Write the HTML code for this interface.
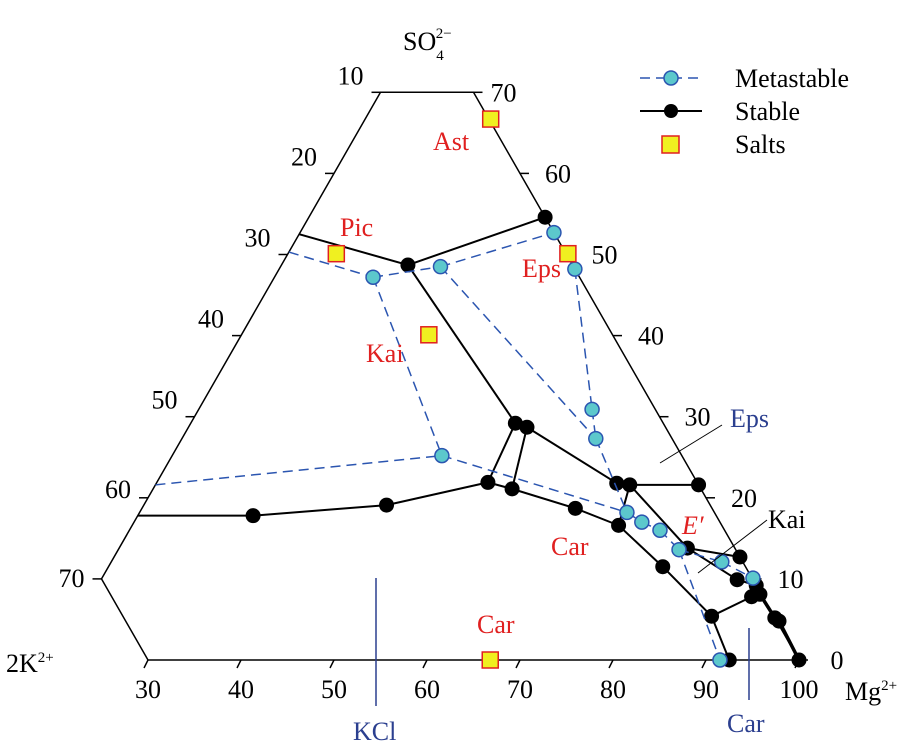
<!DOCTYPE html>
<html><head><meta charset="utf-8"><style>
html,body{margin:0;padding:0;background:#fff;}
svg{display:block;font-family:"Liberation Serif",serif;}
</style></head><body>
<svg id="chart" width="914" height="749" viewBox="0 0 914 749" xmlns="http://www.w3.org/2000/svg">
<g id="frame"></g>
<g id="ticks"></g>
<g id="stable"></g>
<g id="meta"></g>
<g id="salts"></g>
<g id="annot">
  <text x="403" y="50" font-size="26">SO<tspan font-size="15" dy="10">4</tspan><tspan font-size="15" dx="-8" dy="-22">2−</tspan></text>
  <text x="6" y="672" font-size="26">2K<tspan font-size="15" dy="-10">2+</tspan></text>
  <text x="845" y="700" font-size="26">Mg<tspan font-size="15" dy="-10">2+</tspan></text>
  <line x1="660" y1="463" x2="722" y2="425" stroke="#000" stroke-width="1"/>
  <text x="730" y="427" font-size="26" fill="#2b3f8f">Eps</text>
  <line x1="698" y1="573" x2="767" y2="520" stroke="#000" stroke-width="1"/>
  <text x="768" y="528" font-size="26" fill="#000">Kai</text>
  <line x1="376" y1="578" x2="376" y2="706" stroke="#2b3f8f" stroke-width="1.5"/>
  <text x="353" y="740" font-size="26" fill="#2b3f8f">KCl</text>
  <line x1="749" y1="628" x2="749" y2="700" stroke="#2b3f8f" stroke-width="1.5"/>
  <text x="727" y="732" font-size="26" fill="#2b3f8f">Car</text>
  <text x="433" y="150" font-size="26" fill="#e02020">Ast</text>
  <text x="340" y="236" font-size="26" fill="#e02020">Pic</text>
  <text x="522" y="277" font-size="26" fill="#e02020">Eps</text>
  <text x="366" y="362" font-size="26" fill="#e02020">Kai</text>
  <text x="551" y="555" font-size="26" fill="#e02020">Car</text>
  <text x="682" y="534" font-size="26" font-style="italic" fill="#e02020">E′</text>
  <text x="477" y="633" font-size="26" fill="#e02020">Car</text>
</g>
<g id="legend">
  <g>
    <line x1="640" y1="78" x2="702" y2="78" stroke="#2b55b0" stroke-width="1.5" stroke-dasharray="10,6"/>
    <circle cx="671" cy="78" r="7" fill="#5cc8cc" stroke="#2b55b0" stroke-width="1.5"/>
    <text x="735" y="87" font-size="26">Metastable</text>
  </g>
  <g>
    <line x1="640" y1="111" x2="702" y2="111" stroke="#000" stroke-width="2"/>
    <circle cx="671" cy="111" r="7" fill="#000"/>
    <text x="735" y="120" font-size="26">Stable</text>
  </g>
  <g>
    <rect x="662" y="136" width="17" height="17" fill="#f0f020" stroke="#e02020" stroke-width="1.5"/>
    <text x="735" y="153" font-size="26">Salts</text>
  </g>
</g>
</svg>
<script>
// Ternary data: m = Mg2+ %, s = SO4 2- % (K = 100 - m - s)
const stableMg  = [20.0,33.6,45.4,54.9,56.4,55.6,58.6,20.0,32.4,46.1,66.6,72.3,79.6,87.9,92.5,69.5,71.0,78.4,81.1,87.3,88.4,90.8,91.75,91.0,94.8,95.45,100];
const stableSO4 = [52.5,48.7,54.6,29.2,28.7,21.9,21.1,17.8,17.8,19.1,18.7,16.6,11.5,5.4,0,21.8,21.6,21.6,13.8,12.7,9.9,9.2,8.1,7.8,5.2,4.8,0];
const stableLinks = [[0,1],[1,2],[1,3],[3,4],[3,5],[4,6],[4,15],[7,8],[8,9],[9,5],[5,6],[6,10],[10,11],[11,12],[12,13],[13,14],[15,16],[16,17],[16,11],[16,18],[18,19],[18,20],[20,21],[21,22],[22,23],[13,23],[22,24],[24,25],[25,26]];
const thickLinks = [[22,24],[24,25],[25,26]];
const metaMg  = [20,30.6,37.2,47.3,51.8,62.3,64.5,49.0,20,72.4,74.6,77.05,80.3,85.65,90.0,91.5];
const metaSO4 = [50.3,47.2,48.5,52.7,48.2,30.9,27.3,25.2,21.6,18.2,17.0,16.0,13.6,12.1,10.1,0];
const metaLinks = [[0,1],[1,2],[2,3],[1,7],[8,7],[7,9],[9,10],[10,11],[11,12],[12,13],[13,14],[2,6],[4,5],[5,6],[6,9],[12,15]];
const saltNames = ["Ast","Pic","Eps","Kai","Car"];
const saltMg  = [33.5,25.2,50.1,40.15,66.8];
const saltSO4 = [66.7,50.1,50.1,40.1,0];
const bottomTicks = [30,40,50,60,70,80,90,100];
const rightTicks = [0,10,20,30,40,50,60,70];
const leftTicks = [10,20,30,40,50,60,70];

const NS="http://www.w3.org/2000/svg";
function X(m,s){return -131+9.3*(m+s/2);}
function Y(s){return 660-8.11*s;}
function mk(tag,attrs,parent){const e=document.createElementNS(NS,tag);for(const k in attrs)e.setAttribute(k,attrs[k]);parent.appendChild(e);return e;}

const frame=document.getElementById('frame');
const fpts=[[30,0],[20,10],[20,70],[30,70],[100,0]];
const fp=mk('polygon',{points:fpts.map(p=>X(p[0],p[1])+','+Y(p[1])).join(' '),fill:'none',stroke:'#000','stroke-width':1.5},frame);



const tk=document.getElementById('ticks');
bottomTicks.forEach(v=>{
  const x=X(v,0),y=Y(0);
  const l=mk('line',{x1:x,y1:y,x2:x-4,y2:y+8,stroke:'#000','stroke-width':1.5},tk);
  
  
  const t=mk('text',{x:x,y:y+38,'font-size':26,'text-anchor':'middle'},tk);
  
  
  t.textContent=v;
});
rightTicks.forEach(v=>{
  const m=100-v,x=X(m,v),y=Y(v);
  const l=mk('line',{x1:x,y1:y,x2:x+9,y2:y,stroke:'#000','stroke-width':1.5},tk);
  
  
  const t=mk('text',{x:x+(v===70?30:38),y:y+9,'font-size':26,'text-anchor':'middle'},tk);
  
  
  t.textContent=v;
});
leftTicks.forEach(v=>{
  const s=80-v,x=X(20,s),y=Y(s);
  const l=mk('line',{x1:x,y1:y,x2:x-9,y2:y,stroke:'#000','stroke-width':1.5},tk);
  
  
  const dy = v===70?8:(v===60?0:-8);
  const t=mk('text',{x:x-30,y:y+dy,'font-size':26,'text-anchor':'middle'},tk);
  
  
  t.textContent=v;
});

const mg=document.getElementById('meta');
metaLinks.forEach(([a,b])=>{
  const l=mk('line',{x1:X(metaMg[a],metaSO4[a]),y1:Y(metaSO4[a]),x2:X(metaMg[b],metaSO4[b]),y2:Y(metaSO4[b]),stroke:'#2b55b0','stroke-width':1.5,'stroke-dasharray':'10,6'},mg);
  
  
});
const sg=document.getElementById('stable');
stableLinks.forEach(([a,b])=>{
  const thick=thickLinks.some(p=>p[0]===a&&p[1]===b);
  const l=mk('line',{x1:X(stableMg[a],stableSO4[a]),y1:Y(stableSO4[a]),x2:X(stableMg[b],stableSO4[b]),y2:Y(stableSO4[b]),stroke:'#000','stroke-width':thick?3.5:2},sg);
  
  
});
metaMg.forEach((m,i)=>{
  if(i===0||i===8)return;
  const c=mk('circle',{cx:X(m,metaSO4[i]),cy:Y(metaSO4[i]),r:7,fill:'#5cc8cc',stroke:'#2b55b0','stroke-width':1.5},mg);
  
  
});
stableMg.forEach((m,i)=>{
  if(i===0||i===7)return;
  const c=mk('circle',{cx:X(m,stableSO4[i]),cy:Y(stableSO4[i]),r:7.5,fill:'#000'},sg);
  
  
});
const sa=document.getElementById('salts');
saltMg.forEach((m,i)=>{
  const x=X(m,saltSO4[i]),y=Y(saltSO4[i]);
  const r=mk('rect',{x:x-8,y:y-8,width:16,height:16,fill:'#f0f020',stroke:'#e02020','stroke-width':1.5},sa);
  
  
});
</script>
</body></html>
